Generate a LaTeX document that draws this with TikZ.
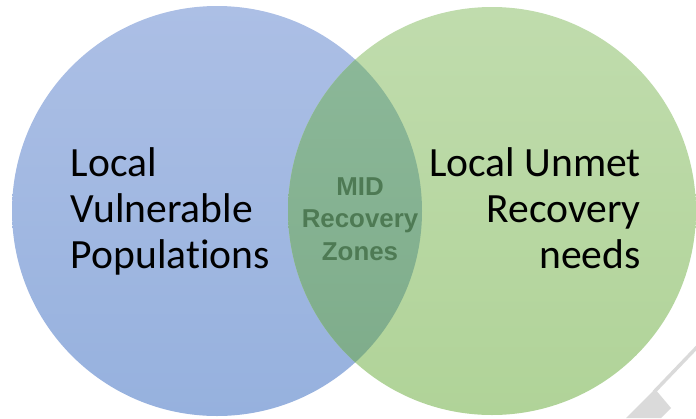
\documentclass[tikz,border=0pt]{standalone}
\usepackage{fontspec}
\setmainfont{Carlito}[Ligatures=NoCommon]
\newfontfamily\zonefont{Liberation Sans}
\usetikzlibrary{positioning}
\definecolor{bluetop}{RGB}{172,191,229}
\definecolor{bluebot}{RGB}{150,177,222}
\definecolor{greentop}{RGB}{192,220,173}
\definecolor{greenbot}{RGB}{176,211,152}
\definecolor{midtop}{RGB}{141,185,154}
\definecolor{midbot}{RGB}{125,171,137}
\definecolor{zonegreen}{RGB}{78,122,84}
\definecolor{markgray}{RGB}{218,218,218}

\begin{document}
\begin{tikzpicture}[x=0.75pt,y=-0.75pt,
    setlabel/.style={inner sep=0pt,font=\fontsize{31.2}{34.8}\selectfont},
    zonelabel/.style={inner sep=0pt,align=center,text=zonegreen,font=\zonefont\bfseries\fontsize{19.4}{24.6}\selectfont}]
    \useasboundingbox (0,0) rectangle (696,418);
    \shade[top color=bluetop,bottom color=bluebot] (217,211) circle[radius=205];
    \shade[top color=greentop,bottom color=greenbot] (492,211) circle[radius=204];
    \begin{scope}
        \clip (217,211) circle[radius=205];
        \shade[top color=midtop,bottom color=midbot] (492,211) circle[radius=204];
    \end{scope}
    \node[setlabel,anchor=north west,align=left] at (70.5,147) (vulnerable) {Local\\Vulnerable\\Populations};
    \node[setlabel,anchor=north east,align=right] at (641,147) (unmet) {Local Unmet\\Recovery\\needs};
    \node[zonelabel,anchor=north] at (360,177) (zones) {MID\\Recovery\\Zones};
    \draw[markgray,line width=2.6pt] (699,345) -- (654,392);
    \fill[markgray] (655,389) -- (671,408) -- (661,418) -- (626,418) -- (653,391) -- cycle;
\end{tikzpicture}
\end{document}
